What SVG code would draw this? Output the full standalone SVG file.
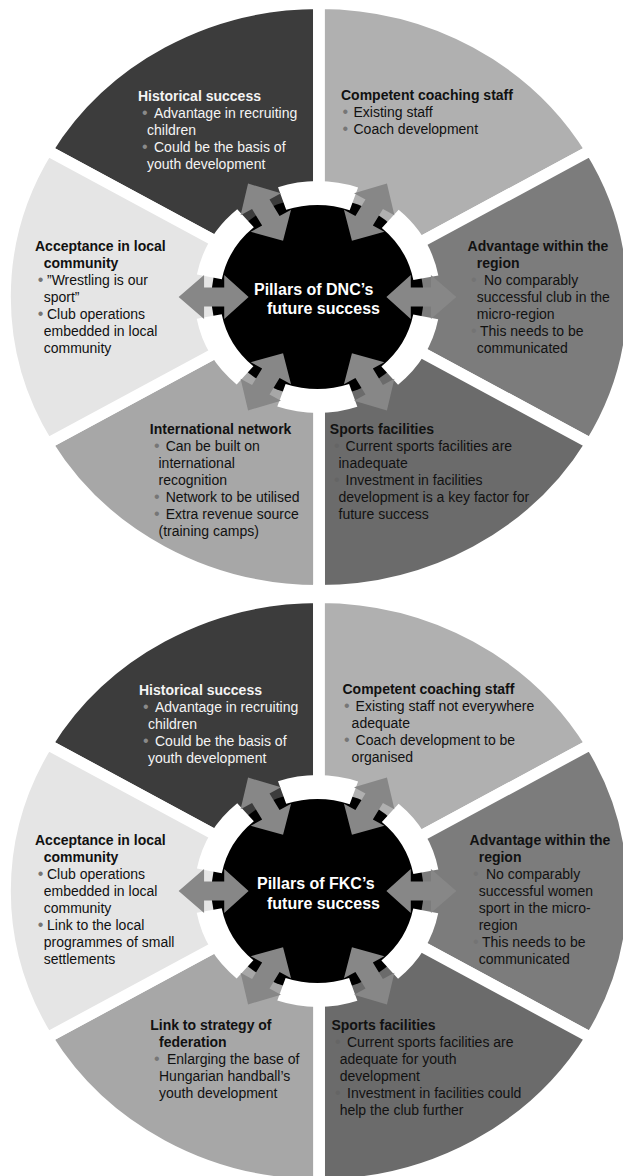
<svg xmlns="http://www.w3.org/2000/svg" width="623" height="1176" viewBox="0 0 623 1176">
<defs>
<style>
.w{stroke:#fff;stroke-width:11;stroke-linejoin:miter}
.s1{fill:#3c3c3c}.s2{fill:#b0b0b0}.s3{fill:#7c7c7c}.s4{fill:#6b6b6b}.s5{fill:#a7a7a7}.s6{fill:#e5e5e5}
text{font-family:"Liberation Sans",Arial,"DejaVu Sans",sans-serif;font-size:14px;fill:#111}
.h{font-weight:bold}
.lt{fill:#f4f4f4}
.ct{font-size:16px;font-weight:bold;fill:#fff}
.d1,.d2,.d3,.d4{font-size:16px}
.d1{fill:#8a8a8a}.d2{fill:#767676}.d3{fill:#747474}.d4{fill:#656565}
.ar{fill:#878787}
.ring{fill:none;stroke:#fff;stroke-width:24;stroke-dasharray:68.98 39.93;stroke-dashoffset:88.95}
</style>
<path id="arw" d="M131,0 L107,-22 L107,-9.5 L88,-9.5 L88,-22 L65,0 L88,22 L88,9.5 L107,9.5 L107,22 Z"/>
<path id="wTL" d="M0,0 L0,-293.5 A293.5,293.5 0 0 0 -254.2,-146.75 Z"/>
<path id="wTR" d="M0,0 L254.2,-146.75 A293.5,293.5 0 0 0 0,-293.5 Z"/>
<path id="wR" d="M0,0 L254.2,146.75 A293.5,293.5 0 0 0 254.2,-146.75 Z"/>
<path id="wBR" d="M0,0 L0,293.5 A293.5,293.5 0 0 0 254.2,146.75 Z"/>
<path id="wBL" d="M0,0 L-254.2,146.75 A293.5,293.5 0 0 0 0,293.5 Z"/>
<path id="wL" d="M0,0 L-254.2,-146.75 A293.5,293.5 0 0 0 -254.2,146.75 Z"/>
</defs>

<!-- ===== Top diagram (DNC) ===== -->
<g id="dnc-historical">
<use href="#wTL" class="s1 w" transform="translate(319,297) scale(1.07,1)"/>
<text x="138" y="101" class="h lt">Historical success</text>
<text x="142" y="118"><tspan class="d1">•</tspan><tspan x="154" class="lt">Advantage in recruiting</tspan></text>
<text x="147" y="135" class="lt">children</text>
<text x="142" y="152"><tspan class="d1">•</tspan><tspan x="154" class="lt">Could be the basis of</tspan></text>
<text x="147" y="169" class="lt">youth development</text>
</g>
<g id="dnc-coaching">
<use href="#wTR" class="s2 w" transform="translate(319,297) scale(1.07,1)"/>
<text x="341" y="100" class="h">Competent coaching staff</text>
<text x="342.5" y="117"><tspan class="d2">•</tspan><tspan x="353.5">Existing staff</tspan></text>
<text x="342.5" y="134"><tspan class="d2">•</tspan><tspan x="353.5">Coach development</tspan></text>
</g>
<g id="dnc-region">
<use href="#wR" class="s3 w" transform="translate(319,297) scale(1.07,1)"/>
<text x="467.6" y="251" class="h">Advantage within the</text>
<text x="476.8" y="268" class="h">region</text>
<text x="471" y="285"><tspan class="d3">•</tspan><tspan x="484">No comparably</tspan></text>
<text x="476.8" y="302">successful club in the</text>
<text x="476.8" y="319">micro-region</text>
<text x="471" y="336"><tspan class="d3">•</tspan><tspan x="480">This needs to be</tspan></text>
<text x="476.8" y="353">communicated</text>
</g>
<g id="dnc-facilities">
<use href="#wBR" class="s4 w" transform="translate(319,297) scale(1.07,1)"/>
<text x="329.8" y="434" class="h">Sports facilities</text>
<text x="334" y="451"><tspan class="d4">•</tspan><tspan x="345.6">Current sports facilities are</tspan></text>
<text x="338.5" y="468">inadequate</text>
<text x="334" y="485"><tspan class="d4">•</tspan><tspan x="345.6">Investment in facilities</tspan></text>
<text x="338.5" y="502">development is a key factor for</text>
<text x="338.5" y="519">future success</text>
</g>
<g id="dnc-network">
<use href="#wBL" class="s5 w" transform="translate(319,297) scale(1.07,1)"/>
<text x="149.8" y="434" class="h">International network</text>
<text x="154" y="451"><tspan class="d2">•</tspan><tspan x="165.7">Can be built on</tspan></text>
<text x="158.5" y="468">international</text>
<text x="158.5" y="485">recognition</text>
<text x="154" y="502"><tspan class="d2">•</tspan><tspan x="165.7">Network to be utilised</tspan></text>
<text x="154" y="519"><tspan class="d2">•</tspan><tspan x="165.7">Extra revenue source</tspan></text>
<text x="158.5" y="536">(training camps)</text>
</g>
<g id="dnc-acceptance">
<use href="#wL" class="s6 w" transform="translate(319,297) scale(1.07,1)"/>
<text x="35" y="251" class="h">Acceptance in local</text>
<text x="43.7" y="268" class="h">community</text>
<text x="37.7" y="285"><tspan class="d2">•</tspan><tspan x="47">”Wrestling is our</tspan></text>
<text x="43.7" y="302">sport”</text>
<text x="37.7" y="319"><tspan class="d2">•</tspan><tspan x="47">Club operations</tspan></text>
<text x="43.7" y="336">embedded in local</text>
<text x="43.7" y="353">community</text>
</g>
<g id="dnc-center">
<ellipse cx="317.5" cy="297" rx="106" ry="100" fill="#000"/>
<circle r="104" class="ring" transform="translate(317.5,297) scale(1.06,1)"/>
<text x="254" y="295" class="ct">Pillars of DNC’s</text>
<text x="267" y="313.5" class="ct">future success</text>
</g>
<g id="dnc-connectors" class="ar" transform="translate(317.5,297) scale(1.06,1)">
<use href="#arw"/>
<use href="#arw" transform="rotate(-60)"/>
<use href="#arw" transform="rotate(-120)"/>
<use href="#arw" transform="rotate(180)"/>
<use href="#arw" transform="rotate(120)"/>
<use href="#arw" transform="rotate(60)"/>
</g>

<!-- ===== Bottom diagram (FKC) ===== -->
<g id="fkc-historical">
<use href="#wTL" class="s1 w" transform="translate(319,891) scale(1.07,1)"/>
<text x="139" y="695" class="h lt">Historical success</text>
<text x="143" y="712"><tspan class="d1">•</tspan><tspan x="155" class="lt">Advantage in recruiting</tspan></text>
<text x="148" y="729" class="lt">children</text>
<text x="143" y="746"><tspan class="d1">•</tspan><tspan x="155" class="lt">Could be the basis of</tspan></text>
<text x="148" y="763" class="lt">youth development</text>
</g>
<g id="fkc-coaching">
<use href="#wTR" class="s2 w" transform="translate(319,891) scale(1.07,1)"/>
<text x="342.5" y="694" class="h">Competent coaching staff</text>
<text x="344" y="711"><tspan class="d2">•</tspan><tspan x="355.6">Existing staff not everywhere</tspan></text>
<text x="351.6" y="728">adequate</text>
<text x="344" y="745"><tspan class="d2">•</tspan><tspan x="355.6">Coach development to be</tspan></text>
<text x="351.6" y="762">organised</text>
</g>
<g id="fkc-region">
<use href="#wR" class="s3 w" transform="translate(319,891) scale(1.07,1)"/>
<text x="469.6" y="845" class="h">Advantage within the</text>
<text x="478.7" y="862" class="h">region</text>
<text x="473" y="879"><tspan class="d3">•</tspan><tspan x="486">No comparably</tspan></text>
<text x="478.7" y="896">successful women</text>
<text x="478.7" y="913">sport in the micro-</text>
<text x="478.7" y="930">region</text>
<text x="473" y="947"><tspan class="d3">•</tspan><tspan x="482">This needs to be</tspan></text>
<text x="478.7" y="964">communicated</text>
</g>
<g id="fkc-facilities">
<use href="#wBR" class="s4 w" transform="translate(319,891) scale(1.07,1)"/>
<text x="331.4" y="1030" class="h">Sports facilities</text>
<text x="335" y="1047"><tspan class="d4">•</tspan><tspan x="347">Current sports facilities are</tspan></text>
<text x="339.7" y="1064">adequate for youth</text>
<text x="339.7" y="1081">development</text>
<text x="335" y="1098"><tspan class="d4">•</tspan><tspan x="347">Investment in facilities could</tspan></text>
<text x="339.7" y="1115">help the club further</text>
</g>
<g id="fkc-federation">
<use href="#wBL" class="s5 w" transform="translate(319,891) scale(1.07,1)"/>
<text x="150.2" y="1030" class="h">Link to strategy of</text>
<text x="159" y="1047" class="h">federation</text>
<text x="154" y="1064"><tspan class="d2">•</tspan><tspan x="167">Enlarging the base of</tspan></text>
<text x="159" y="1081">Hungarian handball’s</text>
<text x="159" y="1098">youth development</text>
</g>
<g id="fkc-acceptance">
<use href="#wL" class="s6 w" transform="translate(319,891) scale(1.07,1)"/>
<text x="35" y="845" class="h">Acceptance in local</text>
<text x="43.7" y="862" class="h">community</text>
<text x="37.7" y="879"><tspan class="d2">•</tspan><tspan x="47">Club operations</tspan></text>
<text x="43.7" y="896">embedded in local</text>
<text x="43.7" y="913">community</text>
<text x="37.7" y="930"><tspan class="d2">•</tspan><tspan x="47">Link to the local</tspan></text>
<text x="43.7" y="947">programmes of small</text>
<text x="43.7" y="964">settlements</text>
</g>
<g id="fkc-center">
<ellipse cx="317.5" cy="891" rx="106" ry="100" fill="#000"/>
<circle r="104" class="ring" transform="translate(317.5,891) scale(1.06,1)"/>
<text x="257" y="889" class="ct">Pillars of FKC’s</text>
<text x="267" y="908.5" class="ct">future success</text>
</g>
<g id="fkc-connectors" class="ar" transform="translate(317.5,891) scale(1.06,1)">
<use href="#arw"/>
<use href="#arw" transform="rotate(-60)"/>
<use href="#arw" transform="rotate(-120)"/>
<use href="#arw" transform="rotate(180)"/>
<use href="#arw" transform="rotate(120)"/>
<use href="#arw" transform="rotate(60)"/>
</g>
</svg>
